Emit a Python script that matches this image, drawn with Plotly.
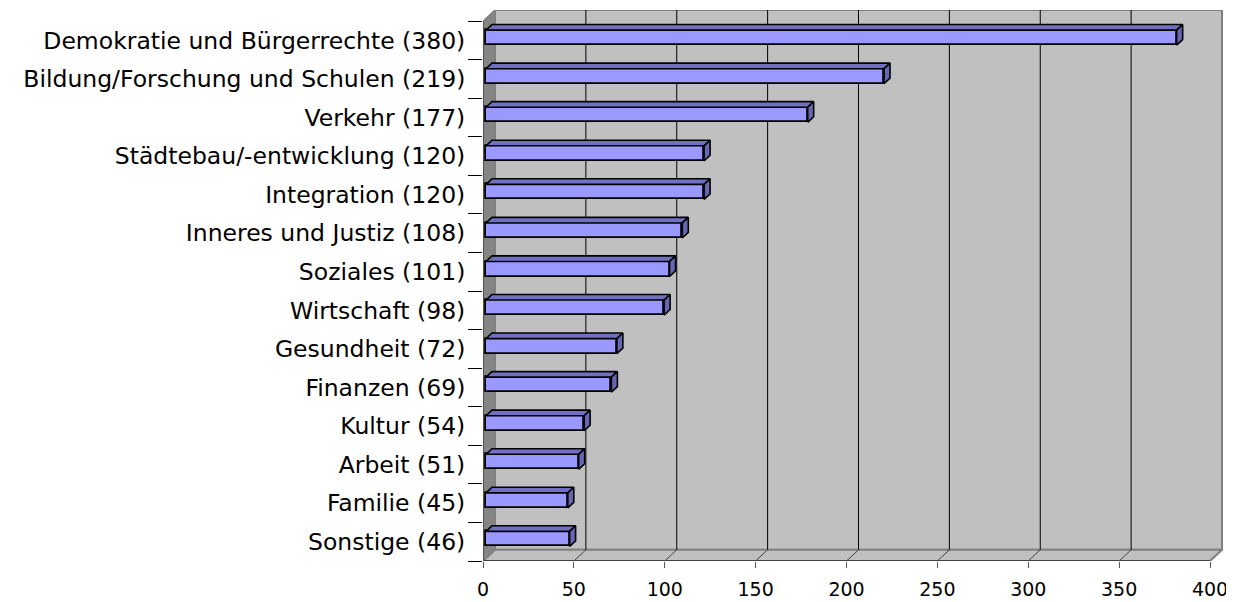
import plotly.graph_objects as go

# ---------------- data ----------------
categories = [
    "Demokratie und Bürgerrechte (380)",
    "Bildung/Forschung und Schulen (219)",
    "Verkehr (177)",
    "Städtebau/-entwicklung (120)",
    "Integration (120)",
    "Inneres und Justiz (108)",
    "Soziales (101)",
    "Wirtschaft (98)",
    "Gesundheit (72)",
    "Finanzen (69)",
    "Kultur (54)",
    "Arbeit (51)",
    "Familie (45)",
    "Sonstige (46)",
]
values = [380, 219, 177, 120, 120, 108, 101, 98, 72, 69, 54, 51, 45, 46]
x_ticks = [0, 50, 100, 150, 200, 250, 300, 350, 400]

# ---------------- 3D geometry (data units) ----------------
n = len(categories)
ypos = [n - 1 - k for k in range(n)]
XMAX = x_ticks[-1]
DX, DY = 6.6, 0.29      # full depth offset of the wall
F0, F1 = 0.25, 0.75     # bar depth placement (front / back fraction)
H = 0.39                # bar thickness (category units)
YB, YT = -0.5, n - 0.5

FONT = "DejaVu Sans"

fig = go.Figure()

# front faces of bars
fig.add_trace(go.Bar(
    x=values, y=[y + F0 * DY for y in ypos], base=F0 * DX, orientation="h",
    width=H, marker=dict(color="#9999FF", line=dict(color="black", width=1.8)),
    hoverinfo="skip", showlegend=False,
))

# top faces & side faces
tx, ty, sx, sy = [], [], [], []
for v, y in zip(values, ypos):
    yt = y + H / 2
    yb = y - H / 2
    tx += [F0 * DX, v + F0 * DX, v + F1 * DX, F1 * DX, F0 * DX, None]
    ty += [yt + F0 * DY, yt + F0 * DY, yt + F1 * DY, yt + F1 * DY, yt + F0 * DY, None]
    sx += [v + F0 * DX, v + F0 * DX, v + F1 * DX, v + F1 * DX, v + F0 * DX, None]
    sy += [yb + F0 * DY, yt + F0 * DY, yt + F1 * DY, yb + F1 * DY, yb + F0 * DY, None]
fig.add_trace(go.Scatter(x=tx, y=ty, mode="lines", fill="toself", fillcolor="#7070C0",
                         line=dict(color="black", width=1.6), hoverinfo="skip", showlegend=False))
fig.add_trace(go.Scatter(x=sx, y=sy, mode="lines", fill="toself", fillcolor="#6666B3",
                         line=dict(color="black", width=1.6), hoverinfo="skip", showlegend=False))

shapes = []
# back wall
shapes.append(dict(type="rect", xref="x", yref="y", x0=DX, x1=XMAX + DX, y0=YB + DY, y1=YT + DY,
                   fillcolor="#C0C0C0", line=dict(color="#808080", width=2), layer="below"))
# floor
shapes.append(dict(type="path", xref="x", yref="y",
                   path=f"M0,{YB} L{XMAX},{YB} L{XMAX + DX},{YB + DY} L{DX},{YB + DY} Z",
                   fillcolor="#C0C0C0", line=dict(color="#808080", width=2), layer="below"))
# left wall
shapes.append(dict(type="path", xref="x", yref="y",
                   path=f"M0,{YB} L0,{YT} L{DX},{YT + DY} L{DX},{YB + DY} Z",
                   fillcolor="#858585", line=dict(color="#808080", width=1.5), layer="below"))
# gridlines on wall and floor
for t in x_ticks[1:-1]:
    shapes.append(dict(type="line", xref="x", yref="y", x0=t + DX, x1=t + DX, y0=YB + DY, y1=YT + DY,
                       line=dict(color="black", width=1), layer="below"))
    shapes.append(dict(type="line", xref="x", yref="y", x0=t + DX, x1=t, y0=YB + DY, y1=YB,
                       line=dict(color="#404040", width=1), layer="below"))
# front edges (axes)
shapes.append(dict(type="line", xref="x", yref="y", x0=0, x1=XMAX, y0=YB, y1=YB,
                   line=dict(color="#404040", width=2), layer="below"))
shapes.append(dict(type="line", xref="x", yref="y", x0=0, x1=0, y0=YB, y1=YT,
                   line=dict(color="#404040", width=1.5), layer="below"))

# page body has an 8px margin -> figure starts at (8, 8)
L, R, T, B = 475, 11, 2, 41
W, Hpx = 1226, 594
xspan = (W - L - R) / (727 / 400)

fig.update_layout(
    template="none",
    width=W, height=Hpx,
    margin=dict(l=L, r=R, t=T, b=B, autoexpand=False),
    paper_bgcolor="white", plot_bgcolor="white",
    shapes=shapes, showlegend=False, bargap=0,
    font=dict(family=FONT, color="black"),
    xaxis=dict(
        automargin=False,
        range=[0, xspan], tickvals=x_ticks, ticktext=[str(t) for t in x_ticks],
        showgrid=False, zeroline=False, showline=False,
        ticks="outside", ticklen=6, tickwidth=1, tickcolor="#555555",
        ticklabelstandoff=5,
        tickfont=dict(family=FONT, size=19, color="black"),
    ),
    yaxis=dict(
        automargin=False,
        range=[YB, YT + DY], tickvals=ypos, ticktext=categories,
        showgrid=False, zeroline=False, showline=False,
        ticks="outside", ticklen=12, tickcolor="rgba(0,0,0,0)",
        tickfont=dict(family=FONT, size=23.5, color="black"),
        minor=dict(tickvals=[y + 0.5 for y in range(-1, n)], ticks="outside",
                   ticklen=14, tickwidth=1, tickcolor="black", showgrid=False),
    ),
)

fig.write_html("out.html")
